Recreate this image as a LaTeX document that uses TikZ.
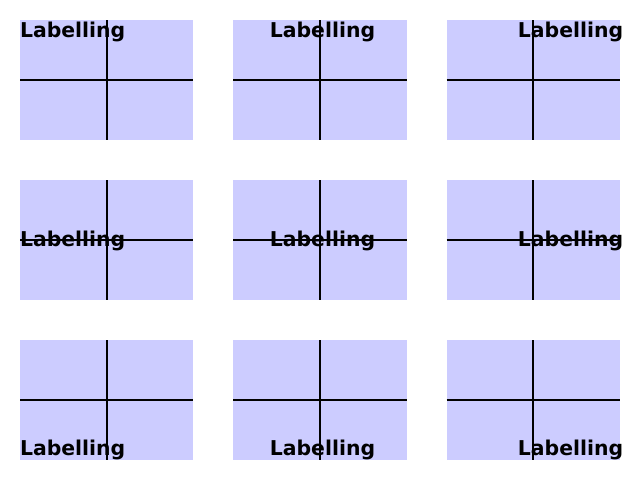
\documentclass[tikz,border=0pt]{standalone}
\usepackage{fontspec}
\setmainfont{DejaVu Sans}
\definecolor{panelblue}{HTML}{CCCCFF}
\begin{document}
\begin{tikzpicture}[x=1pt,y=-1pt,
  panel/.style={draw=none,fill=panelblue,minimum width=173.33pt,minimum height=120pt,inner sep=0pt,outer sep=0pt},
  lbl/.style={font=\fontsize{20.4}{20.4}\selectfont\bfseries,inner sep=0pt,outer sep=0pt,text=black},
  cross/.style={line width=1.8pt,draw=black}]
\useasboundingbox (0,0) rectangle (640,480);
\foreach \c/\cx in {0/106.67,1/320,2/533.33}
  \foreach \r/\cy in {0/80,1/240,2/400}
    \node[panel] (p\c\r) at (\cx,\cy) {};
% top row
\node[lbl,anchor=north west,yshift=-2pt] (l00) at (p00.north west) {Labelling};
\node[lbl,anchor=north,yshift=-2pt,xshift=2.5pt] (l10) at (p10.north) {Labelling};
\node[lbl,anchor=north east,yshift=-2pt,xshift=3.2pt] (l20) at (p20.north east) {Labelling};
% middle row
\node[lbl,anchor=west,yshift=-1pt] (l01) at (p01.west) {Labelling};
\node[lbl,anchor=center,yshift=-1pt,xshift=2.5pt] (l11) at (p11.center) {Labelling};
\node[lbl,anchor=east,yshift=-1pt,xshift=3.2pt] (l21) at (p21.east) {Labelling};
% bottom row
\node[lbl,anchor=south west] (l02) at (p02.south west) {Labelling};
\node[lbl,anchor=south,xshift=2.5pt] (l12) at (p12.south) {Labelling};
\node[lbl,anchor=south east,xshift=3.2pt] (l22) at (p22.south east) {Labelling};
% crosshairs
\foreach \c in {0,1,2}
  \foreach \r in {0,1,2} {
    \draw[cross] (p\c\r.west) -- (p\c\r.east);
    \draw[cross] (p\c\r.north) -- (p\c\r.south);
  }
\end{tikzpicture}
\end{document}
